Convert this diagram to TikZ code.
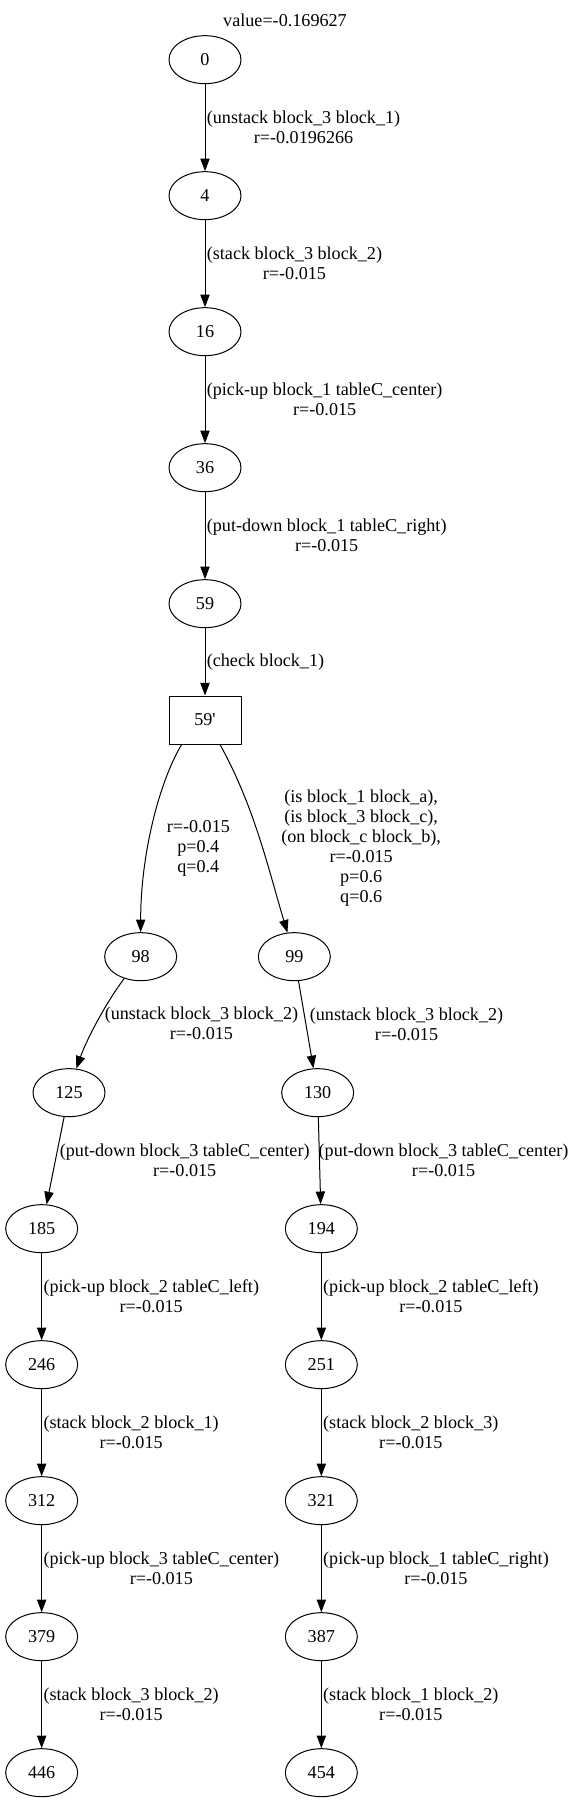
\documentclass[tikz,border=0pt]{standalone}
\usepackage{fontspec}
\setmainfont{Liberation Serif}[Ligatures=TeXOff]
\usepackage{tikz}
\usetikzlibrary{arrows.meta,shapes.geometric}

\begin{document}
\begin{tikzpicture}[x=1pt,y=1pt,font=\fontsize{13.6pt}{15pt}\selectfont]

%
% Styles
%
\tikzstyle{vertex} = [ellipse,draw,line width=0.75pt,minimum width=54pt,minimum height=36pt,inner sep=0pt]
\tikzstyle{chance} = [rectangle,draw,line width=0.75pt,minimum width=54pt,minimum height=36pt,inner sep=0pt]
\tikzstyle{edge}   = [-{Triangle[length=9.5pt,width=7pt]},line width=0.75pt]
\tikzstyle{weight} = [align=center,inner sep=1pt]

\useasboundingbox (0,0) rectangle (429.75,-1352.25);

\node (title) at (213.75,-15.5) {value=-0.169627};

% trunk
\node[vertex] (v0)   at (153.75,-44.75)  {0};
\node[vertex] (v4)   at (153.75,-146.75) {4};
\node[vertex] (v16)  at (153.75,-248.75) {16};
\node[vertex] (v36)  at (153.75,-350.75) {36};
\node[vertex] (v59)  at (153.75,-452.75) {59};
\node[chance] (v59p) at (153.75,-540)    {59'};

% left branch
\node[vertex] (v98)  at (105.5,-717.5)  {98};
\node[vertex] (v125) at (51.75,-819.5)  {125};
\node[vertex] (v185) at (31.25,-921.5)  {185};
\node[vertex] (v246) at (31.25,-1023.5) {246};
\node[vertex] (v312) at (31.25,-1125.5) {312};
\node[vertex] (v379) at (31.25,-1227.5) {379};
\node[vertex] (v446) at (31.25,-1329.5) {446};

% right branch
\node[vertex] (v99)  at (220.75,-717.5) {99};
\node[vertex] (v130) at (238.25,-819.5) {130};
\node[vertex] (v194) at (241,-921.5)    {194};
\node[vertex] (v251) at (241,-1023.5)   {251};
\node[vertex] (v321) at (241,-1125.5)   {321};
\node[vertex] (v387) at (241,-1227.5)   {387};
\node[vertex] (v454) at (241,-1329.5)   {454};

\draw[edge] (v0) -- node[weight,right] {(unstack block\_3 block\_1)\\r=-0.0196266} (v4);
\draw[edge] (v4) -- node[weight,right] {(stack block\_3 block\_2)\\r=-0.015} (v16);
\draw[edge] (v16) -- node[weight,right] {(pick-up block\_1 tableC\_center)\\r=-0.015} (v36);
\draw[edge] (v36) -- node[weight,right] {(put-down block\_1 tableC\_right)\\r=-0.015} (v59);
\draw[edge] (v59) -- node[weight,right] {(check block\_1)} (v59p);

% chance outcomes
\draw[edge] ([xshift=-17.5pt]v59p.south) .. controls +(-16.25,-26.75) and +(0,59.5) .. (v98.north);
\draw[edge] ([xshift=11.25pt]v59p.south) .. controls +(25.9,-46.75) and +(-14.1,47) .. (v99.106);
\node[weight] (p98) at (148.75,-636.5) {r=-0.015\\p=0.4\\q=0.4};
\node[weight] (p99) at (270.9,-636.25) {(is block\_1 block\_a),\\(is block\_3 block\_c),\\(on block\_c block\_b),\\r=-0.015\\p=0.6\\q=0.6};

\draw[edge] (v98.233) .. controls +(-15,-20) and +(7,20) .. node[weight,right,xshift=5pt] {(unstack block\_3 block\_2)\\r=-0.015} (v125.73);
\draw[edge] (v125) -- node[weight,right,xshift=2pt] {(put-down block\_3 tableC\_center)\\r=-0.015} (v185);
\draw[edge] (v185) -- node[weight,right] {(pick-up block\_2 tableC\_left)\\r=-0.015} (v246);
\draw[edge] (v246) -- node[weight,right] {(stack block\_2 block\_1)\\r=-0.015} (v312);
\draw[edge] (v312) -- node[weight,right] {(pick-up block\_3 tableC\_center)\\r=-0.015} (v379);
\draw[edge] (v379) -- node[weight,right] {(stack block\_3 block\_2)\\r=-0.015} (v446);

\draw[edge] (v99) -- node[weight,right,xshift=1.5pt] {(unstack block\_3 block\_2)\\r=-0.015} (v130);
\draw[edge] (v130) -- node[weight,right,xshift=-2pt] {(put-down block\_3 tableC\_center)\\r=-0.015} (v194);
\draw[edge] (v194) -- node[weight,right] {(pick-up block\_2 tableC\_left)\\r=-0.015} (v251);
\draw[edge] (v251) -- node[weight,right] {(stack block\_2 block\_3)\\r=-0.015} (v321);
\draw[edge] (v321) -- node[weight,right] {(pick-up block\_1 tableC\_right)\\r=-0.015} (v387);
\draw[edge] (v387) -- node[weight,right] {(stack block\_1 block\_2)\\r=-0.015} (v454);

\end{tikzpicture}
\end{document}
